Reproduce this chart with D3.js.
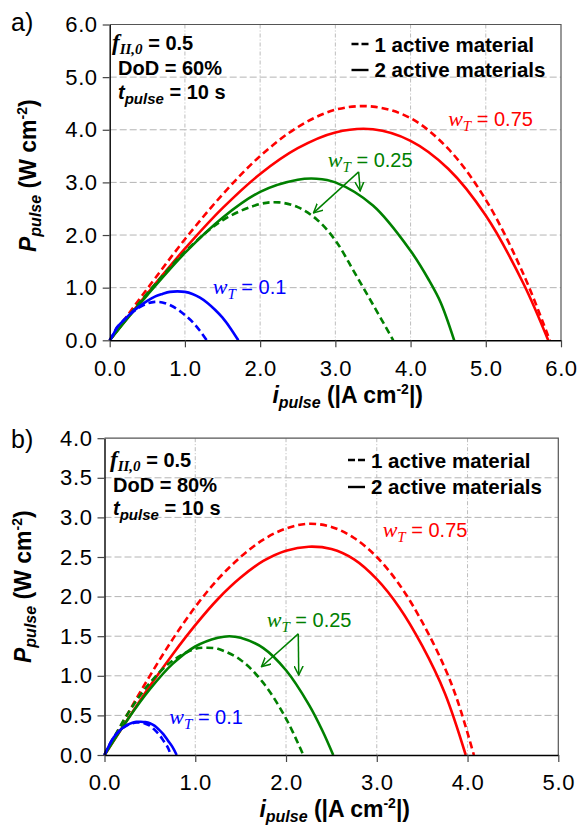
<!DOCTYPE html>
<html>
<head>
<meta charset="utf-8">
<script src="https://cdnjs.cloudflare.com/ajax/libs/d3/7.8.5/d3.min.js"></script>
<style>
  body { margin: 0; background: #fff; }
  text { font-family: "Liberation Sans", Arial, sans-serif; }
</style>
</head>
<body>
<svg id="chart" width="579" height="825"></svg>
<script>
// ---- panel a) DoD = 60% ----
var aTicksX = [0, 1, 2, 3, 4, 5, 6];
var aTicksY = [0, 1, 2, 3, 4, 5, 6];
// [i_pulse, P_pulse]
var aRed1 = [[0,0],[0.25,0.5],[0.5,0.98],[1,1.92],[1.5,2.77],[2,3.5],[2.5,4.05],[3,4.38],[3.5,4.44],[4,4.22],[4.5,3.64],[5,2.67],[5.5,1.26],[5.85,0]];
var aRed2 = [[0,0],[0.25,0.45],[0.5,0.89],[1,1.74],[1.5,2.51],[2,3.16],[2.5,3.65],[3,3.95],[3.5,4.01],[4,3.79],[4.5,3.26],[5,2.37],[5.5,1.08],[5.83,0]];
var aGreen1 = [[0,0],[0.25,0.46],[0.5,0.89],[1,1.68],[1.5,2.28],[2,2.59],[2.25,2.62],[2.5,2.53],[2.75,2.3],[3,1.9],[3.25,1.3],[3.5,0.68],[3.77,0]];
var aGreen2 = [[0,0],[0.25,0.44],[0.5,0.86],[1,1.66],[1.5,2.33],[2,2.82],[2.5,3.05],[2.75,3.07],[3,3.0],[3.5,2.56],[4,1.7],[4.25,1.13],[4.4,0.72],[4.58,0]];
var aBlue1 = [[0,0],[0.05,0.12],[0.1,0.25],[0.2,0.4],[0.3,0.53],[0.4,0.63],[0.5,0.7],[0.6,0.73],[0.7,0.72],[0.8,0.67],[0.9,0.59],[1,0.48],[1.1,0.35],[1.2,0.18],[1.29,0]];
var aBlue2 = [[0,0],[0.05,0.12],[0.1,0.25],[0.2,0.4],[0.3,0.54],[0.4,0.65],[0.5,0.75],[0.6,0.83],[0.7,0.88],[0.8,0.92],[0.9,0.93],[1,0.92],[1.1,0.88],[1.2,0.81],[1.3,0.71],[1.4,0.58],[1.5,0.43],[1.6,0.24],[1.71,0]];

// ---- panel b) DoD = 80% ----
var bTicksX = [0, 1, 2, 3, 4, 5];
var bTicksY = [0, 0.5, 1, 1.5, 2, 2.5, 3, 3.5, 4];
var bRed1 = [[0,0],[0.25,0.51],[0.5,1.0],[0.75,1.46],[1,1.87],[1.25,2.22],[1.5,2.5],[1.75,2.72],[2,2.86],[2.25,2.92],[2.5,2.88],[2.75,2.74],[3,2.5],[3.25,2.15],[3.5,1.68],[3.75,1.1],[3.9,0.65],[4.07,0]];
var bRed2 = [[0,0],[0.25,0.44],[0.5,0.87],[0.75,1.27],[1,1.64],[1.25,1.97],[1.5,2.24],[1.75,2.45],[2,2.58],[2.25,2.63],[2.5,2.6],[2.75,2.47],[3,2.22],[3.25,1.86],[3.5,1.38],[3.75,0.78],[3.98,0]];
var bGreen1 = [[0,0],[0.25,0.51],[0.5,0.91],[0.75,1.19],[1,1.34],[1.125,1.355],[1.25,1.34],[1.5,1.2],[1.75,0.91],[2,0.46],[2.19,0]];
var bGreen2 = [[0,0],[0.25,0.44],[0.5,0.83],[0.75,1.15],[1,1.37],[1.25,1.48],[1.375,1.5],[1.5,1.48],[1.75,1.35],[2,1.07],[2.25,0.64],[2.4,0.31],[2.52,0]];
var bBlue1 = [[0,0],[0.05,0.12],[0.1,0.22],[0.15,0.29],[0.2,0.34],[0.25,0.375],[0.3,0.397],[0.35,0.41],[0.4,0.41],[0.45,0.395],[0.5,0.37],[0.55,0.32],[0.6,0.26],[0.65,0.18],[0.7,0.09],[0.73,0]];
var bBlue2 = [[0,0],[0.05,0.12],[0.1,0.22],[0.15,0.29],[0.2,0.34],[0.25,0.38],[0.3,0.405],[0.35,0.418],[0.4,0.42],[0.45,0.415],[0.5,0.4],[0.55,0.37],[0.6,0.32],[0.65,0.26],[0.7,0.18],[0.75,0.1],[0.795,0]];

var RED = "#ff0000", GREEN = "#008000", BLUE = "#0000ff";

var svg = d3.select("#chart");

// open chevron for the arrows
svg.append("defs").append("marker")
  .attr("id", "chev")
  .attr("viewBox", "0 0 10 10")
  .attr("refX", 9).attr("refY", 5)
  .attr("markerWidth", 10).attr("markerHeight", 10)
  .attr("markerUnits", "userSpaceOnUse")
  .attr("orient", "auto")
  .append("path")
  .attr("d", "M0,0.5 L9,5 L0,9.5")
  .attr("fill", "none")
  .attr("stroke", GREEN)
  .attr("stroke-width", 1.5);

function drawPanel(p) {
  var x = d3.scaleLinear().domain([0, p.xMax]).range([p.left, p.right]);
  var y = d3.scaleLinear().domain([0, p.yMax]).range([p.bottom, p.top]);
  var g = svg.append("g");

  // grid
  g.selectAll(".hgrid").data(p.ticksY.filter(function (d) { return d > 0 && d < p.yMax; }))
    .enter().append("line")
    .attr("x1", p.left).attr("x2", p.right)
    .attr("y1", function (d) { return y(d); }).attr("y2", function (d) { return y(d); })
    .attr("stroke", "#b4b4b4").attr("stroke-width", 1).attr("stroke-dasharray", "7,3");
  g.selectAll(".vgrid").data(p.ticksX.filter(function (d) { return d > 0 && d < p.xMax; }))
    .enter().append("line")
    .attr("y1", p.top).attr("y2", p.bottom)
    .attr("x1", function (d) { return x(d); }).attr("x2", function (d) { return x(d); })
    .attr("stroke", "#bdbdbd").attr("stroke-width", 1).attr("stroke-dasharray", "4,2,1,2");

  // top/right frame
  g.append("path")
    .attr("d", "M" + p.left + "," + p.top + "H" + p.right + "V" + p.bottom)
    .attr("fill", "none").attr("stroke", "#555").attr("stroke-width", 1.2);

  // curves
  var line = d3.line()
    .x(function (d) { return x(d[0]); })
    .y(function (d) { return y(d[1]); })
    .curve(d3.curveCatmullRom.alpha(0.5));
  p.series.forEach(function (s) {
    g.append("path")
      .attr("d", line(s.data))
      .attr("fill", "none")
      .attr("stroke", s.color)
      .attr("stroke-width", 2.6)
      .attr("stroke-dasharray", s.dashed ? "7,4" : null);
  });

  // axes
  var ax = g.append("g").attr("transform", "translate(0," + p.bottom + ")")
    .call(d3.axisBottom(x).tickValues(p.ticksX).tickFormat(d3.format(".1f")).tickSize(7).tickSizeOuter(0).tickPadding(p.xPad));
  var ay = g.append("g").attr("transform", "translate(" + p.left + ",0)")
    .call(d3.axisLeft(y).tickValues(p.ticksY).tickFormat(d3.format(".1f")).tickSize(7).tickSizeOuter(0).tickPadding(5));
  [ax, ay].forEach(function (a) {
    a.select(".domain").attr("stroke", "#000").attr("stroke-width", 1.4);
    a.selectAll(".tick line").attr("stroke", "#444").attr("stroke-width", 1.2);
    a.selectAll(".tick text").attr("fill", "#000").style("font-size", "22px")
      .style("letter-spacing", "0.6px")
      .style("font-family", '"Liberation Sans", Arial, sans-serif');
  });

  // axis titles
  var xt = svg.append("text")
    .attr("x", p.xTitle[0]).attr("y", p.xTitle[1])
    .attr("text-anchor", "end")
    .style("font-size", "23px").style("font-weight", "bold");
  xt.append("tspan").style("font-style", "italic").text("i");
  xt.append("tspan").style("font-style", "italic").style("font-size", "16px").attr("dy", 5).text("pulse");
  xt.append("tspan").attr("dy", -5).text(" (|A cm");
  xt.append("tspan").style("font-size", "14px").attr("dy", -9).text("-2");
  xt.append("tspan").attr("dy", 9).text("|)");

  var yt = svg.append("text")
    .attr("transform", "translate(" + p.yTitle[0] + "," + p.yTitle[1] + ") rotate(-90)")
    .attr("text-anchor", "start")
    .style("font-size", "23px").style("font-weight", "bold");
  yt.append("tspan").style("font-style", "italic").text("P");
  yt.append("tspan").style("font-style", "italic").style("font-size", "16px").attr("dy", 5).text("pulse");
  yt.append("tspan").attr("dy", -5).text(" (W cm");
  yt.append("tspan").style("font-size", "14px").attr("dy", -9).text("-2");
  yt.append("tspan").attr("dy", 9).text(")");

  // panel letter
  svg.append("text").attr("x", 11).attr("y", p.letterY)
    .style("font-size", "25px").text(p.letter);

  // conditions box
  var c = p.cond;
  var t1 = svg.append("text").attr("x", c[0][0]).attr("y", c[0][1])
    .style("font-size", "20px").style("font-weight", "bold");
  t1.append("tspan").style("font-family", '"Liberation Serif", serif').style("font-style", "italic").style("font-size", "23px").text("f");
  t1.append("tspan").style("font-family", '"Liberation Serif", serif').style("font-style", "italic").style("font-size", "15px").attr("dy", 4).text("II,0");
  t1.append("tspan").attr("dy", -4).text(" = 0.5");
  svg.append("text").attr("x", c[1][0]).attr("y", c[1][1])
    .style("font-size", "20px").style("font-weight", "bold").text(p.dod);
  var t3 = svg.append("text").attr("x", c[2][0]).attr("y", c[2][1])
    .style("font-size", "20px").style("font-weight", "bold");
  t3.append("tspan").style("font-style", "italic").text("t");
  t3.append("tspan").style("font-style", "italic").style("font-size", "15px").attr("dy", 5).text("pulse");
  t3.append("tspan").attr("dy", -5).text(" = 10 s");

  // legend
  var L = p.legend;
  g.append("line").attr("x1", L[0]).attr("x2", L[0] + 17).attr("y1", L[1]).attr("y2", L[1])
    .attr("stroke", "#000").attr("stroke-width", 2.4).attr("stroke-dasharray", "7,3");
  g.append("line").attr("x1", L[0]).attr("x2", L[0] + 17).attr("y1", L[1] + L[2]).attr("y2", L[1] + L[2])
    .attr("stroke", "#000").attr("stroke-width", 2.4);
  svg.append("text").attr("x", L[0] + 23).attr("y", L[1] + 8)
    .style("font-size", "20.5px").style("font-weight", "bold").text("1 active material");
  svg.append("text").attr("x", L[0] + 23).attr("y", L[1] + L[2] + 7)
    .style("font-size", "20.5px").style("font-weight", "bold").text("2 active materials");

  // w_T labels
  p.labels.forEach(function (l) {
    var t = svg.append("text").attr("x", x(l.at[0])).attr("y", y(l.at[1]))
      .attr("fill", l.color).style("font-size", "20px");
    t.append("tspan").style("font-family", '"Liberation Serif", serif').style("font-style", "italic").style("font-size", "22px").text("w");
    t.append("tspan").style("font-family", '"Liberation Serif", serif').style("font-style", "italic").style("font-size", "15px").attr("dy", 5).text("T");
    t.append("tspan").attr("dy", -5).text(" = " + l.text);
  });

  // arrows from the green label
  p.arrows.forEach(function (a) {
    g.append("line")
      .attr("x1", x(a[0][0])).attr("y1", y(a[0][1]))
      .attr("x2", x(a[1][0])).attr("y2", y(a[1][1]))
      .attr("stroke", GREEN).attr("stroke-width", 1.5)
      .attr("marker-end", "url(#chev)");
  });
}

drawPanel({
  letter: "a)", letterY: 31,
  xMax: 6, yMax: 6,
  left: 109.7, right: 561, top: 24.5, bottom: 340.3,
  ticksX: aTicksX, ticksY: aTicksY, xPad: 13,
  xTitle: [423, 403], yTitle: [36, 252],
  dod: "DoD = 60%",
  cond: [[112, 50], [118, 75], [118, 99]],
  legend: [351.5, 44, 26],
  series: [
    { data: aRed1, color: RED, dashed: true },
    { data: aRed2, color: RED, dashed: false },
    { data: aGreen1, color: GREEN, dashed: true },
    { data: aGreen2, color: GREEN, dashed: false },
    { data: aBlue1, color: BLUE, dashed: true },
    { data: aBlue2, color: BLUE, dashed: false }
  ],
  labels: [
    { at: [4.5, 4.07], color: RED, text: "0.75" },
    { at: [2.9, 3.3], color: GREEN, text: "0.25" },
    { at: [1.37, 0.88], color: BLUE, text: "0.1" }
  ],
  arrows: [
    [[3.31, 3.2], [2.71, 2.42]],
    [[3.31, 3.2], [3.33, 2.84]]
  ]
});

drawPanel({
  letter: "b)", letterY: 448,
  xMax: 5, yMax: 4,
  left: 104.5, right: 558.3, top: 438.2, bottom: 755,
  ticksX: bTicksX, ticksY: bTicksY, xPad: 12,
  xTitle: [410, 817], yTitle: [31, 663],
  dod: "DoD = 80%",
  cond: [[110, 467], [113, 492], [113, 515]],
  legend: [348, 460, 27],
  series: [
    { data: bRed1, color: RED, dashed: true },
    { data: bRed2, color: RED, dashed: false },
    { data: bGreen1, color: GREEN, dashed: true },
    { data: bGreen2, color: GREEN, dashed: false },
    { data: bBlue1, color: BLUE, dashed: true },
    { data: bBlue2, color: BLUE, dashed: false }
  ],
  labels: [
    { at: [3.065, 2.756], color: RED, text: "0.75" },
    { at: [1.787, 1.62], color: GREEN, text: "0.25" },
    { at: [0.714, 0.391], color: BLUE, text: "0.1" }
  ],
  arrows: [
    [[2.135, 1.53], [1.73, 1.115]],
    [[2.135, 1.53], [2.14, 1.01]]
  ]
});
</script>
</body>
</html>
